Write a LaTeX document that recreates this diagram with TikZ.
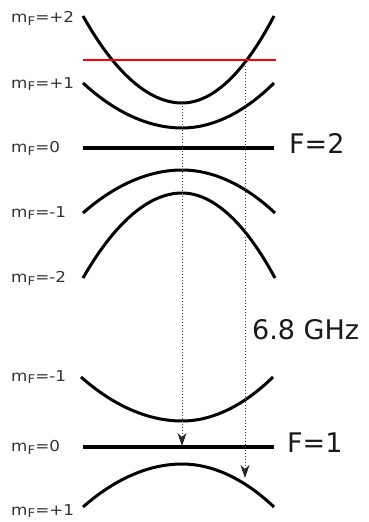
\documentclass[tikz,border=0pt]{standalone}
\usepackage{fontspec}
\setmainfont{DejaVu Sans}
\usetikzlibrary{arrows.meta}
\newcommand{\mFlab}[1]{\scalebox{1.12}[1]{\fontsize{15}{15}\selectfont m\raisebox{-0.35ex}{\fontsize{12}{12}\selectfont F}=#1}}
\tikzset{
  level/.style={line width=3pt, black},
  flatlevel/.style={line width=3.4pt, black},
  mlabel/.style={anchor=west, inner sep=0pt, text=black!80},
  big/.style={anchor=west, inner sep=0pt, text=black!90, font=\fontsize{27}{27}\selectfont},
  transition/.style={dotted, line width=1pt, black!75, -{Stealth[length=13pt,width=9pt,inset=4pt,black!85]}},
}
\begin{document}
\begin{tikzpicture}[x=1pt,y=-1pt]
\useasboundingbox (0,0) rectangle (368,522);
% F=2 manifold
\draw[level] (83,16) parabola bend (182,103) (274,16);
\draw[level] (83,83) parabola bend (182,128) (274,83);
\draw[flatlevel] (83,148) -- (274,148);
\draw[level] (83,213) parabola bend (182,170) (275,213);
\draw[level] (83,278) parabola bend (182,193) (275,278);
% F=1 manifold
\draw[level] (81,377) parabola bend (182,421) (273,377);
\draw[flatlevel] (83,447) -- (274,447);
\draw[level] (83,507) parabola bend (182,464) (274,507);
% red rf line
\draw[red, line width=1.3pt] (83,60) -- (276,60);
% coordinates of transitions
\coordinate (bottom2) at (182,103);
\coordinate (land1) at (182,446);
\coordinate (cross) at (245,60);
\coordinate (land2) at (245,478);
\draw[transition] (bottom2) -- (land1);
\draw[transition] (cross) -- (land2);
% labels
\node[mlabel] (l1) at (11,18) {\mFlab{+2}};
\node[mlabel] (l2) at (11,84) {\mFlab{+1}};
\node[mlabel] (l3) at (11,148) {\mFlab{0}};
\node[mlabel] (l4) at (11,213) {\mFlab{-1}};
\node[mlabel] (l5) at (11,278) {\mFlab{-2}};
\node[mlabel] (l6) at (11,377) {\mFlab{-1}};
\node[mlabel] (l7) at (11,447) {\mFlab{0}};
\node[mlabel] (l8) at (11,511) {\mFlab{+1}};
\node[big] (f2) at (289,143) {F=2};
\node[big] (ghz) at (252,330) {6.8 GHz};
\node[big] (f1) at (287,443) {F=1};
\end{tikzpicture}
\end{document}
